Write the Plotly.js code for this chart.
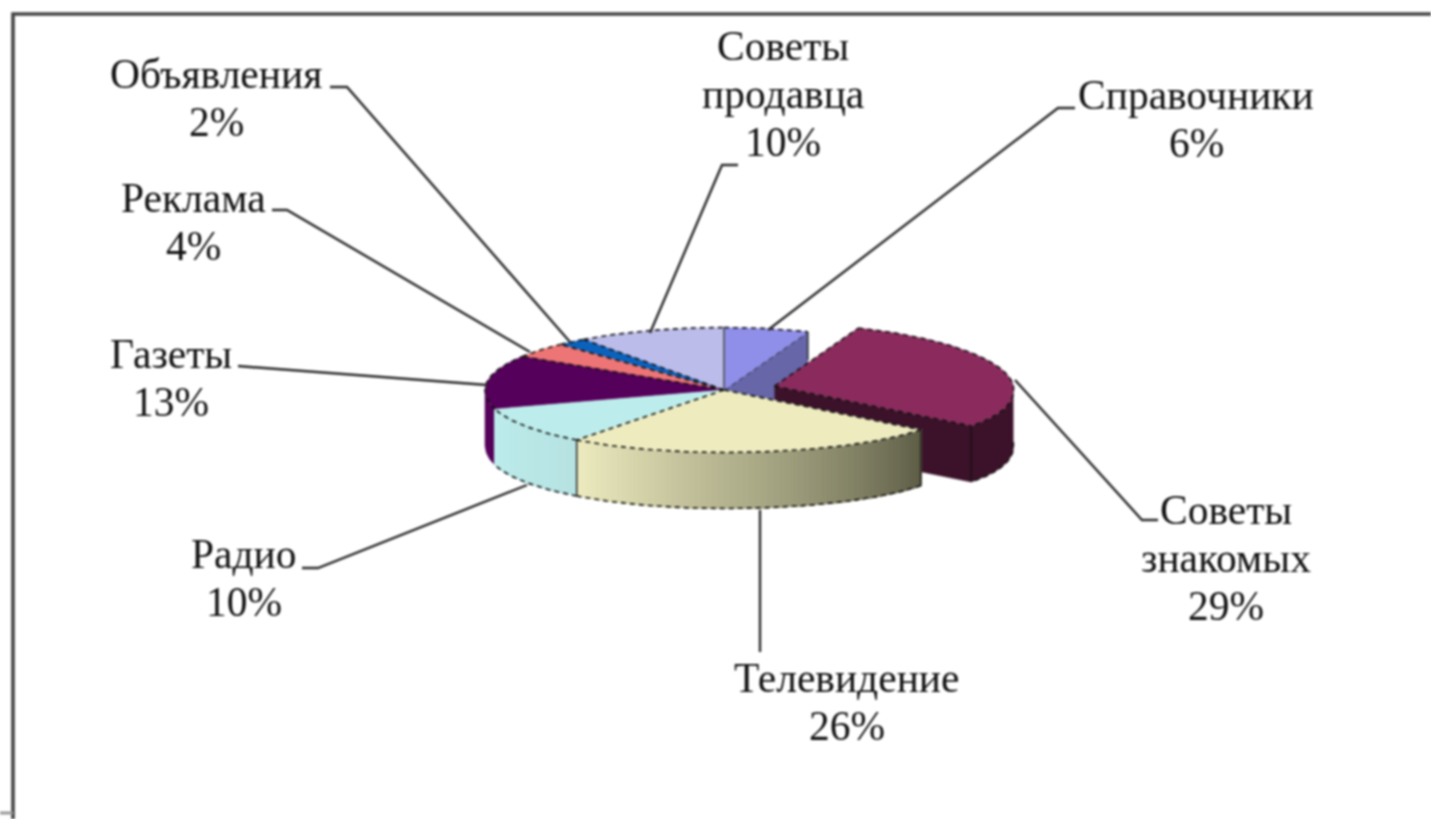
<!DOCTYPE html>
<html><head><meta charset="utf-8">
<script src="https://cdn.plot.ly/plotly-3.0.1.min.js"></script>
<style>html,body{margin:0;padding:0;background:#fff;overflow:hidden}#c{width:1431px;height:819px;filter:blur(0.85px)}</style>
</head><body><div id="c"></div>
<script>
// ---- data ----
const categories = ['Справочники','Советы<br>знакомых','Телевидение','Радио','Газеты','Реклама','Объявления','Советы<br>продавца'];
const shares = [6,29,26,10,13,4,2,10];
const topColors = ['#8f8fe9','#8b2b5d','#eeecbf','#bcedec','#55005a','#ee7575','#0a62bd','#bcbcea'];
const wallColors = ['#6666a8','#3b1229','#eeecbf','#bcedec','#55005a','#ee7575','#0a62bd','#bcbcea'];

// ---- projection of the tilted pie ----
const CX=724, CY=390, RX=239, RY=62.5, DEPTH=56, EXPLODE=0.22, EXPLODED=1;
const labelX=[1196,1226,847,244,171,193,216,783];
const labelY=[118.5,557.5,701.5,577.5,377.5,221.5,97.5,93.5];
const LINE=48;
const leaders=[
 [[1075,1058,768],[108,108,330]],
 [[1158,1142,1015],[520,520,380]],
 [[760,760],[652,510]],
 [[302,318,527],[568,568,485]],
 [[238,250,487],[366,367,385]],
 [[272,287,530],[210,210,352]],
 [[330,347,570],[87,87,342]],
 [[738,722,650],[165,165,333]]
];
const total=shares.reduce((a,b)=>a+b,0);
let acc=0;
const slices=shares.map((v,i)=>{const a0=acc/total*360;acc+=v;const a1=acc/total*360;
  const mid=(a0+a1)/2*Math.PI/180,k=i===EXPLODED?EXPLODE:0;
  return {a0,a1,cx:CX+k*RX*Math.sin(mid),cy:CY-k*RY*Math.cos(mid)};});
function P(s,deg,dz){const t=deg*Math.PI/180,sn=Math.sin(t),cs=Math.cos(t);
  // mild perspective: the near half of the disc is drawn a little fuller than a true ellipse
  const fx=sn>=0?(1-(cs>0?0.05:0.03)*cs):(cs<0?(1+0.043*cs):1);
  const vy=cs<0?Math.pow(-cs,0.85):-cs;
  return [s.cx+RX*sn*fx,s.cy+RY*vy+(dz||0)];}
function arc(s,a0,a1,dz){const n=Math.max(2,Math.ceil(Math.abs(a1-a0)));const o=[];for(let j=0;j<=n;j++)o.push(P(s,a0+(a1-a0)*j/n,dz));return o;}
const traces=[];
function fill(pts,color){traces.push({type:'scatter',mode:'lines',x:pts.map(p=>p[0]),y:pts.map(p=>p[1]),fill:'toself',fillcolor:color,line:{color:color,width:0.5},hoverinfo:'skip',showlegend:false});}
function stroke(pts,opt){traces.push({type:'scatter',mode:'lines',x:pts.map(p=>p[0]),y:pts.map(p=>p[1]),line:Object.assign({color:'#111',width:1.6},opt||{}),hoverinfo:'skip',showlegend:false});}
const DOT={dash:'5px,4px'};
function topFace(i){const s=slices[i];const pts=[[s.cx,s.cy]].concat(arc(s,s.a0,s.a1));pts.push([s.cx,s.cy]);fill(pts,topColors[i]);}
function wall(i,a0,a1,color){const s=slices[i];fill(arc(s,a0,a1).concat(arc(s,a1,a0,DEPTH)),color);}
function mix(a,b,t){return 'rgb('+a.map((v,j)=>Math.round(v+(b[j]-v)*t)).join(',')+')';}
function outline(i,a0,a1){const s=slices[i];stroke(arc(s,a0,a1),DOT);}

// face left open by the pulled-out slice
const s0=slices[0],e0=P(s0,s0.a1);
fill([[s0.cx,s0.cy],e0,[e0[0],e0[1]+DEPTH],[s0.cx,s0.cy+DEPTH]],wallColors[0]);
stroke([e0,[e0[0],e0[1]+DEPTH*0.5]],{width:1.2});
stroke([[s0.cx,s0.cy],e0],DOT);

// pulled-out slice
const sE=slices[1],eA=P(sE,sE.a1);
fill([[sE.cx,sE.cy],eA,[eA[0],eA[1]+DEPTH],[sE.cx,sE.cy+DEPTH]],wallColors[1]);
wall(1,90,sE.a1,wallColors[1]);
stroke(arc(sE,90,sE.a1,DEPTH),DOT);
stroke([eA,[eA[0],eA[1]+DEPTH]],{width:1.2});
topFace(1);
outline(1,sE.a0,sE.a1);
stroke([[sE.cx,sE.cy],P(sE,sE.a0)],DOT);
stroke([[sE.cx,sE.cy],eA],DOT);

// rear-left wall
wall(4,slices[4].a0,270,wallColors[4]);
// radio wall with a slight sheen: each strip runs to the far end and is painted over by the next
const sR=slices[3];
const rStrips=12;
for(let j=0;j<rStrips;j++){const t=j/rStrips;wall(3,sR.a0+(sR.a1-sR.a0)*t,sR.a1,mix([188,237,236],[182,226,226],1-t));}
stroke(arc(sR,sR.a0,sR.a1,DEPTH),DOT);
// television wall with its gradient, same painter's order
const sT=slices[2];
const strips=64;
for(let j=0;j<strips;j++){const t=j/strips;const a=sT.a1+(sT.a0-sT.a1)*t;
  const c=t<0.5?mix([236,234,190],[170,169,134],t/0.5):mix([170,169,134],[92,92,70],(t-0.5)/0.5);
  wall(2,a,sT.a0,c);}
stroke(arc(sT,sT.a0,sT.a1,DEPTH),DOT);
const tL=P(sT,sT.a1),tR=P(sT,sT.a0);
stroke([tL,[tL[0],tL[1]+DEPTH]],{width:1.3});
stroke([tR,[tR[0],tR[1]+DEPTH]],{width:1.1});

// top faces
[0,7,6,5,4,3,2].forEach(topFace);
[0,2,3,4,5,6,7].forEach(i=>outline(i,slices[i].a0,slices[i].a1));
[2,3,5,6,7].forEach(i=>{stroke([[slices[i].cx,slices[i].cy],P(slices[i],slices[i].a0)],DOT);});
stroke([[slices[0].cx,slices[0].cy],P(slices[0],0)],{width:1.5,color:'#444'});

// leader lines
leaders.forEach(l=>stroke(l[0].map((x,j)=>[x,l[1][j]]),{color:'#2a2a2a',width:2.4}));
// chart frame
stroke([[1431,14],[13,14],[13,819]],{color:'#444',width:3.6});
stroke([[0,813],[13,813]],{color:'#999',width:3});

const annotations=[];
categories.forEach((c,i)=>{
  const lines=(c+'<br>'+shares[i]+'%').split('<br>');
  lines.forEach((t,j)=>annotations.push({x:labelX[i],y:labelY[i]+(j-(lines.length-1)/2)*LINE,xref:'x',yref:'y',text:t,showarrow:false,align:'center',xanchor:'center',yanchor:'middle',font:{family:'"Liberation Serif",serif',size:41.5,color:'#111'}}));
});

Plotly.newPlot('c',traces,{width:1431,height:819,margin:{l:0,r:0,t:0,b:0},paper_bgcolor:'#fff',plot_bgcolor:'#fff',showlegend:false,
 xaxis:{range:[0,1431],visible:false,fixedrange:true},
 yaxis:{range:[819,0],visible:false,fixedrange:true},
 annotations},{displayModeBar:false,staticPlot:true});
</script></body></html>
